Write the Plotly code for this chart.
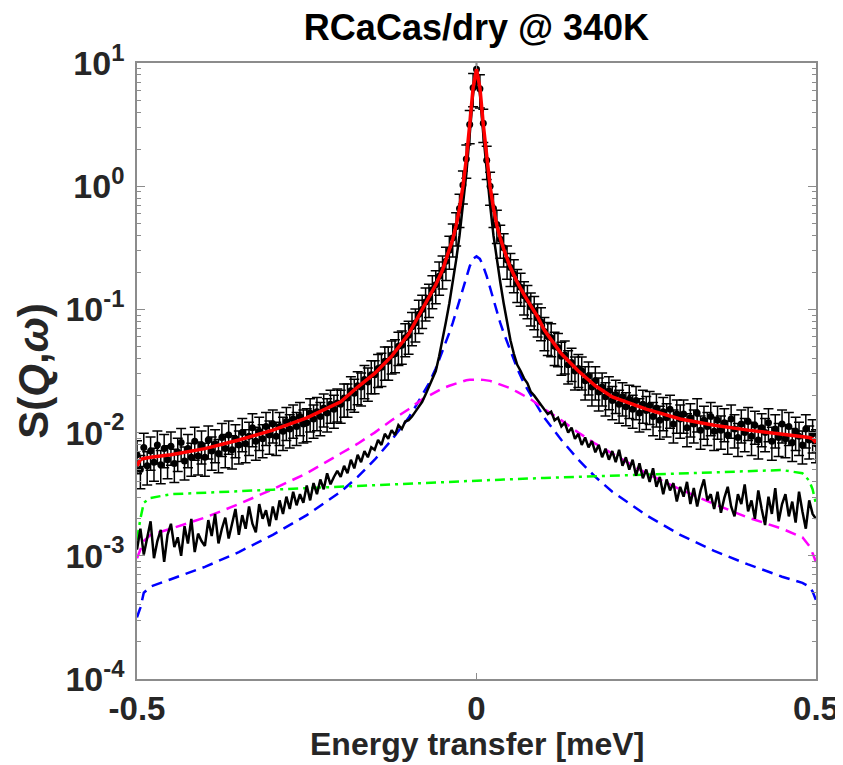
import numpy as np
import plotly.graph_objects as go

# ---------------- data (log10 of S(Q,w)) ----------------
# energy grid of the measured spectrum (0.005 meV bins)
x_data = np.round(np.arange(-100, 101) * 0.005, 3)

data_log10 = [
    -2.18, -2.30, -2.12, -2.27, -2.15, -2.24, -2.10, -2.26, -2.13, -2.22,
    -2.11, -2.25, -2.16, -2.08, -2.23, -2.13, -2.20, -2.07, -2.19, -2.10,
    -2.20, -2.06, -2.15, -2.09, -2.17, -2.04, -2.13, -2.02, -2.14, -2.05,
    -2.10, -2.00, -2.09, -2.03, -1.96, -2.07, -1.99, -2.05, -1.95, -2.02,
    -1.93, -2.03, -1.95, -1.99, -1.91, -1.97, -1.89, -1.95, -1.87, -1.93,
    -1.92, -1.84, -1.89, -1.83, -1.87, -1.80, -1.84, -1.77, -1.81, -1.76,
    -1.77, -1.72, -1.72, -1.66, -1.68, -1.62, -1.63, -1.57, -1.59, -1.53,
    -1.53, -1.48, -1.47, -1.42, -1.42, -1.37, -1.36, -1.30, -1.29, -1.23,
    -1.21, -1.14, -1.11, -1.04, -1.00, -0.94, -0.91, -0.84, -0.80, -0.73,
    -0.68, -0.61, -0.52, -0.42, -0.33, -0.18, 0.01, 0.22, 0.50, 0.80,
    0.95,
    0.79, 0.51, 0.21, 0.00, -0.18, -0.31, -0.43, -0.50, -0.60, -0.66,
    -0.71, -0.79, -0.82, -0.89, -0.92, -0.98, -1.01, -1.07, -1.10, -1.18,
    -1.22, -1.23, -1.30, -1.31, -1.38, -1.37, -1.45, -1.43, -1.50, -1.48,
    -1.50, -1.58, -1.54, -1.63, -1.58, -1.67, -1.63, -1.71, -1.66, -1.74,
    -1.69, -1.77, -1.71, -1.79, -1.73, -1.81, -1.74, -1.84, -1.77, -1.82,
    -1.78, -1.87, -1.80, -1.90, -1.83, -1.88, -1.81, -1.93, -1.85, -1.89,
    -1.85, -1.96, -1.88, -1.93, -1.84, -1.98, -1.90, -1.95, -1.87, -1.99,
    -1.90, -1.98, -1.92, -2.02, -1.89, -1.97, -2.04, -1.93, -2.00, -1.91,
    -2.03, -1.94, -2.06, -1.96, -2.00, -1.92, -2.07, -1.97, -2.04, -1.93,
    -2.05, -1.95, -2.08, -1.99, -2.03, -2.10, -1.97, -2.06, -2.01, -2.09,
]
data_err_percent = 30

# narrow (elastic / resolution) component, noisy, log10 values
elastic_log10 = [
    -2.95, -2.78, -2.99, -2.84, -2.72, -3.02, -2.88, -2.79, -3.05, -2.83,
    -2.74, -2.93, -2.85, -3.00, -2.76, -2.90, -2.70, -2.97, -2.82, -2.88,
    -2.92, -2.71, -2.84, -2.66, -2.90, -2.78, -2.69, -2.86, -2.75, -2.62,
    -2.83, -2.67, -2.78, -2.60, -2.74, -2.81, -2.58, -2.70, -2.63, -2.76,
    -2.60, -2.71, -2.55, -2.66, -2.52, -2.62, -2.48, -2.59, -2.50, -2.57,
    -2.43, -2.55, -2.41, -2.50, -2.38, -2.46, -2.33, -2.42, -2.36, -2.31,
    -2.36, -2.27, -2.33, -2.22, -2.29, -2.18, -2.24, -2.15, -2.20, -2.12,
    -2.14, -2.06, -2.10, -2.01, -2.05, -1.98, -2.02, -1.94, -1.97, -1.91,
    -1.90, -1.87, -1.83, -1.79, -1.75, -1.69, -1.63, -1.57, -1.50, -1.38,
    -1.25, -1.10, -0.95, -0.78, -0.60, -0.40, -0.15, 0.10, 0.42, 0.75,
    0.92,
    0.75, 0.42, 0.10, -0.15, -0.40, -0.60, -0.78, -0.95, -1.10, -1.25,
    -1.36, -1.45, -1.50, -1.56, -1.60, -1.67, -1.70, -1.74, -1.77, -1.81,
    -1.85, -1.83, -1.90, -1.88, -1.95, -1.92, -2.00, -1.96, -2.05, -2.01,
    -2.10, -2.04, -2.12, -2.07, -2.16, -2.10, -2.20, -2.13, -2.22, -2.15,
    -2.24, -2.14, -2.27, -2.20, -2.30, -2.22, -2.35, -2.25, -2.37, -2.30,
    -2.40, -2.29, -2.44, -2.36, -2.50, -2.38, -2.47, -2.41, -2.56, -2.44,
    -2.52, -2.40, -2.58, -2.45, -2.60, -2.47, -2.38, -2.55, -2.50, -2.62,
    -2.48, -2.65, -2.53, -2.44, -2.60, -2.68, -2.50, -2.58, -2.42, -2.64,
    -2.55, -2.70, -2.47, -2.62, -2.75, -2.52, -2.66, -2.45, -2.72, -2.58,
    -2.50, -2.68, -2.56, -2.73, -2.48, -2.64, -2.78, -2.55, -2.66, -2.70,
]

# energy points of the smooth model curves
x_fit = [-0.5, -0.495, -0.49, -0.48, -0.45, -0.4, -0.35, -0.3, -0.25, -0.2,
         -0.175, -0.15, -0.125, -0.1, -0.09, -0.08, -0.07, -0.06, -0.05, -0.04,
         -0.035, -0.03, -0.025, -0.02, -0.015, -0.01, -0.005, 0.0,
         0.005, 0.01, 0.015, 0.02, 0.025, 0.03, 0.035, 0.04, 0.05, 0.06,
         0.07, 0.08, 0.09, 0.1, 0.125, 0.15, 0.175, 0.2, 0.25, 0.3,
         0.35, 0.4, 0.45, 0.48, 0.49, 0.495, 0.5]

total_fit_log10 = [
    -2.27, -2.22, -2.21, -2.20, -2.18, -2.13, -2.06, -1.98, -1.88, -1.75,
    -1.63, -1.52, -1.38, -1.20, -1.10, -1.00, -0.90, -0.80, -0.68, -0.52,
    -0.43, -0.32, -0.18, 0.00, 0.22, 0.50, 0.80, 0.95,
    0.80, 0.50, 0.22, 0.00, -0.18, -0.32, -0.42, -0.51, -0.66, -0.78,
    -0.88, -0.97, -1.06, -1.17, -1.36, -1.50, -1.62, -1.71, -1.81, -1.89,
    -1.94, -1.98, -2.01, -2.03, -2.04, -2.05, -2.08]

narrow_lorentz_log10 = [
    -3.50, -3.42, -3.30, -3.25, -3.19, -3.09, -2.97, -2.83, -2.67, -2.48,
    -2.36, -2.22, -2.06, -1.88, -1.79, -1.70, -1.60, -1.48, -1.34, -1.19,
    -1.11, -1.02, -0.93, -0.83, -0.73, -0.65, -0.59, -0.57,
    -0.59, -0.65, -0.73, -0.83, -0.93, -1.02, -1.11, -1.19, -1.34, -1.48,
    -1.60, -1.70, -1.79, -1.88, -2.06, -2.22, -2.36, -2.48, -2.67, -2.83,
    -2.96, -3.07, -3.17, -3.22, -3.25, -3.29, -3.36]

broad_lorentz_log10 = [
    -3.02, -2.95, -2.88, -2.83, -2.78, -2.69, -2.58, -2.46, -2.33, -2.17,
    -2.09, -2.00, -1.90, -1.81, -1.77, -1.73, -1.70, -1.67, -1.64, -1.62,
    -1.61, -1.60, -1.59, -1.58, -1.575, -1.572, -1.57, -1.57,
    -1.57, -1.572, -1.575, -1.58, -1.59, -1.60, -1.61, -1.62, -1.64, -1.67,
    -1.70, -1.73, -1.77, -1.81, -1.90, -2.00, -2.09, -2.17, -2.33, -2.46,
    -2.58, -2.69, -2.78, -2.85, -2.92, -2.98, -3.05]

background_log10 = [
    -2.87, -2.70, -2.57, -2.53, -2.50, -2.49, -2.476, -2.463, -2.45, -2.439,
    -2.433, -2.427, -2.421, -2.415, -2.413, -2.41, -2.408, -2.405, -2.403, -2.40,
    -2.399, -2.398, -2.397, -2.396, -2.394, -2.393, -2.392, -2.39,
    -2.389, -2.388, -2.386, -2.385, -2.384, -2.383, -2.382, -2.381, -2.378, -2.376,
    -2.374, -2.372, -2.37, -2.368, -2.364, -2.359, -2.355, -2.351, -2.341, -2.332,
    -2.322, -2.313, -2.304, -2.33, -2.39, -2.46, -2.58]

y_tickvals = [1e-4, 1e-3, 1e-2, 1e-1, 1e0, 1e1]
y_ticktext = ["10<sup>-4</sup>", "10<sup>-3</sup>", "10<sup>-2</sup>",
              "10<sup>-1</sup>", "10<sup>0</sup>", "10<sup>1</sup>"]
x_tickvals = [-0.5, 0, 0.5]
x_ticktext = ["-0.5", "0", "0.5"]

# ---------------- figure ----------------
def lin(v):
    return [10 ** a for a in v]

FONT = "Arial, 'Liberation Sans', Helvetica, sans-serif"
TXT = "#262626"
AX = "#8c8c8c"

fig = go.Figure()

fig.add_trace(go.Scatter(
    x=x_data, y=lin(data_log10), mode="markers",
    marker=dict(color="black", size=7, symbol="circle"),
    error_y=dict(type="percent", value=data_err_percent, color="black",
                 thickness=1.5, width=5),
    name="data"))

fig.add_trace(go.Scatter(
    x=x_fit, y=lin(narrow_lorentz_log10), mode="lines",
    line=dict(color="#0000ff", width=2.5, dash="11px,7px"), name="narrow"))
fig.add_trace(go.Scatter(
    x=x_fit, y=lin(broad_lorentz_log10), mode="lines",
    line=dict(color="#ff00ff", width=2.5, dash="11px,7px"), name="broad"))
fig.add_trace(go.Scatter(
    x=x_fit, y=lin(background_log10), mode="lines",
    line=dict(color="#00ff00", width=2.5, dash="10px,5px,3px,5px"), name="bg"))
fig.add_trace(go.Scatter(
    x=x_data, y=lin(elastic_log10), mode="lines",
    line=dict(color="black", width=2.5), name="elastic"))
fig.add_trace(go.Scatter(
    x=x_fit, y=lin(total_fit_log10), mode="lines",
    line=dict(color="#ff0000", width=3.5), name="fit"))

minor_vals = [k * 10.0 ** e for e in range(-4, 1) for k in range(2, 10)]

PLOT_TOP, PLOT_BOTTOM = 55, 671
plot_h = PLOT_BOTTOM - PLOT_TOP

fig.update_layout(
    width=843, height=765,
    margin=dict(l=129, r=28, t=PLOT_TOP, b=765 - PLOT_BOTTOM),
    plot_bgcolor="white", paper_bgcolor="white",
    showlegend=False,
    font=dict(family=FONT, color=TXT),
    title=dict(text="RCaCas/dry @ 340K", x=0.5, xref="paper",
               y=1 - 19 / 765, yref="container", yanchor="middle",
               xanchor="center",
               font=dict(size=36, family=FONT, color="black", weight="bold")),
    annotations=[dict(
        text="Energy transfer [meV]", xref="paper", yref="paper",
        x=0.5, y=-(736 - PLOT_BOTTOM) / plot_h, xanchor="center",
        yanchor="middle", showarrow=False,
        font=dict(size=32, family=FONT, color=TXT, weight="bold"))],
)

fig.update_xaxes(
    range=[-0.5, 0.5], tickmode="array", tickvals=x_tickvals, ticktext=x_ticktext,
    ticks="inside", ticklen=6, tickcolor=AX, tickwidth=1,
    showline=True, linecolor=AX, linewidth=1.5, mirror="ticks",
    showgrid=False, zeroline=False,
    tickfont=dict(size=33, family=FONT, color=TXT, weight="bold"),
    ticklabelstandoff=0,
)

fig.update_yaxes(
    type="log", range=[-4, 1], tickmode="array", tickvals=y_tickvals,
    ticktext=y_ticktext,
    ticks="inside", ticklen=8, tickcolor=AX, tickwidth=1,
    minor=dict(tickmode="array", tickvals=minor_vals, ticks="inside",
               ticklen=4, tickcolor=AX, showgrid=False),
    showline=True, linecolor=AX, linewidth=1.5, mirror="ticks",
    showgrid=False, zeroline=False,
    tickfont=dict(size=34, family=FONT, color=TXT, weight="bold"),
    ticklabelstandoff=4,
    title=dict(text="S(<i>Q</i>,<i>ω</i>)", standoff=4,
               font=dict(size=42, family=FONT, color=TXT, weight="bold")),
)

fig.write_html("out.html")
